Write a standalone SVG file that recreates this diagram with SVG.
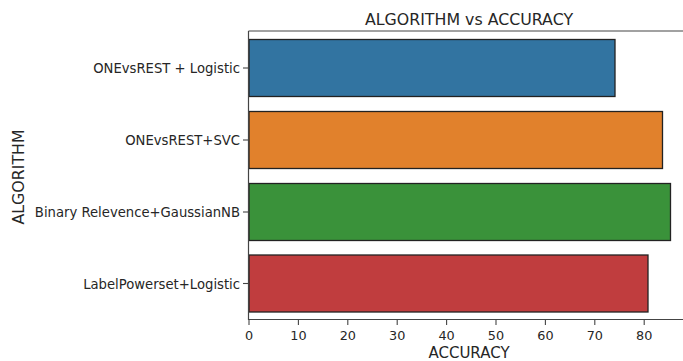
<svg xmlns="http://www.w3.org/2000/svg" width="683" height="361" viewBox="0 0 683 361">
  <style>
    .lbl { font-family: "DejaVu Sans", sans-serif; fill: #262626; }
    .tick { font-size: 13.2px; }
    .xt { font-size: 12.8px; }
    .big { font-size: 15.8px; }
    .bar { stroke: #222; stroke-width: 1.3; }
    .spine { stroke: #444; stroke-width: 1.2; fill: none; }
    .tk { stroke: #444; stroke-width: 1.1; }
  </style>
  <rect width="683" height="361" fill="#fff"/>

  <!-- title -->
  <text class="lbl big" x="469" y="25" text-anchor="middle">ALGORITHM vs ACCURACY</text>

  <!-- bars -->
  <g id="bar-onevsrest-logistic">
    <rect class="bar" x="249" y="39.5" width="366" height="57" fill="#3274a1"/>
  </g>
  <g id="bar-onevsrest-svc">
    <rect class="bar" x="249" y="111.5" width="413.5" height="57" fill="#e1812c"/>
  </g>
  <g id="bar-binary-relevance-gnb">
    <rect class="bar" x="249" y="183.5" width="421.5" height="57" fill="#3a923a"/>
  </g>
  <g id="bar-labelpowerset-logistic">
    <rect class="bar" x="249" y="255" width="399" height="57" fill="#c03d3e"/>
  </g>

  <!-- axes -->
  <g id="axes">
    <path class="spine" d="M248.5 31 H683 M248.5 31 V319.5 H683"/>
    <g class="tk">
      <line x1="243" y1="68" x2="248.5" y2="68"/>
      <line x1="243" y1="140" x2="248.5" y2="140"/>
      <line x1="243" y1="212" x2="248.5" y2="212"/>
      <line x1="243" y1="283.5" x2="248.5" y2="283.5"/>
      <line x1="249" y1="319.5" x2="249" y2="325"/>
      <line x1="298.4" y1="319.5" x2="298.4" y2="325"/>
      <line x1="347.8" y1="319.5" x2="347.8" y2="325"/>
      <line x1="397.2" y1="319.5" x2="397.2" y2="325"/>
      <line x1="446.6" y1="319.5" x2="446.6" y2="325"/>
      <line x1="496" y1="319.5" x2="496" y2="325"/>
      <line x1="545.4" y1="319.5" x2="545.4" y2="325"/>
      <line x1="594.8" y1="319.5" x2="594.8" y2="325"/>
      <line x1="644.2" y1="319.5" x2="644.2" y2="325"/>
    </g>
    <g class="lbl tick" text-anchor="end">
      <text x="240" y="73">ONEvsREST + Logistic</text>
      <text x="240" y="145">ONEvsREST+SVC</text>
      <text x="240" y="217">Binary Relevence+GaussianNB</text>
      <text x="240" y="288.5">LabelPowerset+Logistic</text>
    </g>
    <g class="lbl xt" text-anchor="middle">
      <text x="249" y="340">0</text>
      <text x="298.4" y="340">10</text>
      <text x="347.8" y="340">20</text>
      <text x="397.2" y="340">30</text>
      <text x="446.6" y="340">40</text>
      <text x="496" y="340">50</text>
      <text x="545.4" y="340">60</text>
      <text x="594.8" y="340">70</text>
      <text x="644.2" y="340">80</text>
    </g>
    <text class="lbl" x="469" y="358" font-size="15" text-anchor="middle">ACCURACY</text>
    <text class="lbl big" x="0" y="0" text-anchor="middle" transform="translate(24 177) rotate(-90)">ALGORITHM</text>
  </g>
</svg>
